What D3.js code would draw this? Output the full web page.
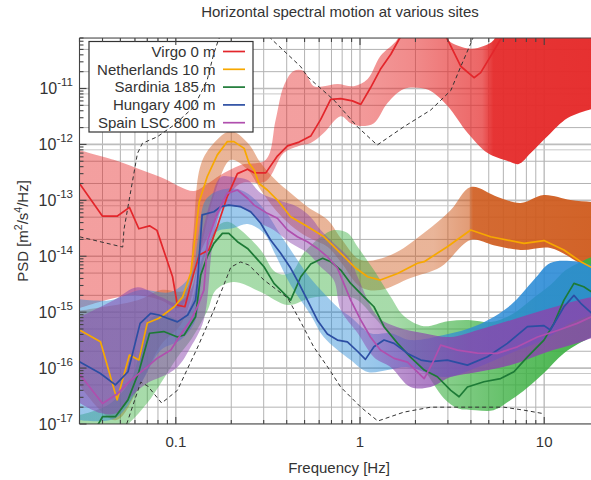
<!DOCTYPE html>
<html><head><meta charset="utf-8">
<script src="https://cdn.jsdelivr.net/npm/d3@7"></script>
<style>
body{margin:0;background:#fff}
svg{display:block}
text{font-family:"Liberation Sans",Arial,Helvetica,sans-serif;fill:#333}
</style>
</head><body>
<svg id="c" width="591" height="480"></svg>
<script>
// ---------------- DATA (frequency [Hz], PSD [m^2/s^4/Hz]) ----------------
const title = "Horizontal spectral motion at various sites";
const xLabel = "Frequency [Hz]";
const xTickValues = [0.1, 1, 10];
const xTickLabels = ["0.1", "1", "10"];
const yTickExponents = [-17, -16, -15, -14, -13, -12, -11];
const legendLabels = ["Virgo 0 m", "Netherlands 10 m", "Sardinia 185 m", "Hungary 400 m", "Spain LSC 800 m"];

const virgoMedian = [[0.03,2.0e-13],[0.040,5.2e-14],[0.048,5.2e-14],[0.056,7.5e-14],[0.063,3.1e-14],[0.072,3.5e-14],[0.079,2.9e-14],[0.096,4.3e-15],[0.102,1.34e-15],[0.112,1.25e-15],[0.125,4.9e-15],[0.134,1.05e-14],[0.151,1.29e-14],[0.168,3.4e-14],[0.19,1.16e-13],[0.216,3.0e-13],[0.245,3.6e-13],[0.266,3.1e-13],[0.308,3.1e-13],[0.356,6.2e-13],[0.404,9.4e-13],[0.467,1.1e-12],[0.54,1.41e-12],[0.612,2.8e-12],[0.693,6.4e-12],[0.786,6.6e-12],[0.909,6.0e-12],[1.01,5.2e-12],[1.14,1.03e-11],[1.29,2.2e-11],[1.47,4.1e-11],[1.63,7.6e-11],[1.9,1.6e-10],[2.6,1.6e-10],[2.98,7.6e-11],[3.52,2.5e-11],[4.16,1.56e-11],[4.52,1.92e-11],[5.12,3.8e-11],[5.8,7.6e-11],[7,2e-10],[20,2e-10]];
const virgoUpper = [[0.03,7.9e-13],[0.046,5.3e-13],[0.061,3.8e-13],[0.083,2.6e-13],[0.125,1.47e-13],[0.145,1.88e-13],[0.175,2.84e-13],[0.225,4.3e-13],[0.308,5.3e-13],[0.348,2.7e-12],[0.385,1.1e-11],[0.436,2.06e-11],[0.495,2.06e-11],[0.561,1.1e-11],[0.635,1.1e-11],[0.755,1.2e-11],[0.924,1.1e-11],[1.10,1.48e-11],[1.29,3.8e-11],[1.60,7.7e-11],[1.8,2e-10],[2.7,2e-10],[2.99,7.7e-11],[3.23,6.25e-11],[3.99,5.15e-11],[4.69,5.75e-11],[5.32,7.4e-11],[6,2e-10],[20,2e-10]];
const virgoLower = [[0.03,1.18e-15],[0.057,2.0e-15],[0.083,1.64e-15],[0.102,1.18e-15],[0.113,1.64e-15],[0.128,7.0e-15],[0.155,2.94e-14],[0.187,1.01e-13],[0.225,2.0e-13],[0.308,2.2e-13],[0.385,7.0e-13],[0.465,9.4e-13],[0.54,1.06e-12],[0.635,1.6e-12],[0.786,3.2e-12],[0.89,2.4e-12],[1.01,2.13e-12],[1.19,2.4e-12],[1.41,5.5e-12],[1.73,9.8e-12],[2.14,1.02e-11],[2.42,9.0e-12],[2.99,4.86e-12],[3.84,1.6e-12],[4.93,7.0e-13],[6.34,5.05e-13],[7.27,4.46e-13],[8.45,7.0e-13],[10.45,1.41e-12],[13.4,2.96e-12],[18.1,4.3e-12],[20,4.6e-12]];

const netherlandsMedian = [[0.03,4.8e-16],[0.039,2.95e-16],[0.048,2.7e-17],[0.056,1.71e-16],[0.063,1.39e-16],[0.070,6.4e-16],[0.081,7.8e-16],[0.098,1.25e-15],[0.109,1.88e-15],[0.1205,5.0e-15],[0.134,9.4e-14],[0.148,2.64e-13],[0.168,6.5e-13],[0.19,1.12e-12],[0.207,1.12e-12],[0.235,8.5e-13],[0.25,4.6e-13],[0.266,3.5e-13],[0.283,2.0e-13],[0.314,1.53e-13],[0.356,1.01e-13],[0.42,5.1e-14],[0.518,3.4e-14],[0.638,2.23e-14],[0.786,1.13e-14],[0.928,6.5e-15],[1.10,4.3e-15],[1.29,3.75e-15],[1.60,4.9e-15],[2.05,7.5e-15],[2.23,8.0e-15],[2.98,1.48e-14],[3.99,2.94e-14],[5.12,2.23e-14],[7.77,1.7e-14],[9.97,1.91e-14],[12.8,1.29e-14],[15.8,8.0e-15],[18.1,6.3e-15],[20,5.8e-15]];
const netherlandsUpper = [[0.03,1.07e-15],[0.062,1.64e-15],[0.083,2.5e-15],[0.113,2.5e-15],[0.1235,1.95e-14],[0.1365,4.3e-13],[0.161,1.06e-12],[0.199,1.74e-12],[0.246,1.06e-12],[0.289,4.65e-13],[0.348,2.3e-13],[0.42,1.35e-13],[0.52,7.6e-14],[0.668,4.45e-14],[0.786,2.12e-14],[1.01,8.55e-15],[1.47,1.05e-14],[2.22,2.6e-14],[3.11,6.7e-14],[3.99,1.73e-13],[5.59,1.15e-13],[7.45,8.95e-14],[9.94,1.24e-13],[13.9,1.01e-13],[18.1,9.3e-14],[20,9.0e-14]];
const netherlandsLower = [[0.03,5.0e-17],[0.047,1.17e-17],[0.064,5.0e-17],[0.083,2.6e-16],[0.106,5.9e-16],[0.1205,1.64e-15],[0.1365,1.29e-14],[0.165,1.53e-13],[0.199,5.3e-13],[0.246,3.5e-13],[0.289,1.53e-13],[0.348,6.7e-14],[0.42,3.6e-14],[0.52,2.2e-14],[0.668,1.46e-14],[0.786,7.9e-15],[1.01,2.8e-15],[1.29,2.48e-15],[1.88,4.07e-15],[2.74,6.4e-15],[3.99,1.95e-14],[5.31,1.58e-14],[7.45,1.29e-14],[10.8,1.4e-14],[15.2,7.9e-15],[18.1,5.66e-15],[20,5.0e-15]];

const sardiniaMedian = [[0.03,5.2e-18],[0.038,1.0e-17],[0.040,1.35e-17],[0.047,1.35e-17],[0.055,2.7e-17],[0.063,8.6e-17],[0.072,4.2e-16],[0.086,4.5e-16],[0.102,3.6e-16],[0.111,3.9e-16],[0.128,8.3e-16],[0.1365,4.6e-15],[0.148,9.8e-15],[0.161,1.7e-14],[0.179,2.57e-14],[0.194,2.57e-14],[0.216,1.82e-14],[0.245,1.38e-14],[0.301,6.5e-15],[0.341,3.27e-15],[0.42,1.64e-15],[0.477,4.3e-15],[0.54,7.25e-15],[0.627,9.2e-15],[0.693,8.0e-15],[0.786,5.66e-15],[0.89,3.27e-15],[1.05,1.88e-15],[1.19,1.25e-15],[1.35,5.5e-16],[1.60,2.77e-16],[1.88,1.57e-16],[2.23,9.2e-17],[2.63,7.0e-17],[3.11,4.0e-17],[3.45,3.07e-17],[3.83,4.6e-17],[4.71,5.7e-17],[5.8,6.5e-17],[6.85,8.6e-17],[8.11,1.59e-16],[9.97,3.17e-16],[11.3,6.3e-16],[12.8,1.64e-15],[14.5,3.27e-15],[16.4,2.84e-15],[18.1,2.3e-15],[20,2.1e-15]];
const sardiniaUpper = [[0.03,1.44e-17],[0.043,2.2e-17],[0.057,6.1e-17],[0.064,2.1e-16],[0.073,7.8e-16],[0.088,8.9e-16],[0.106,7.2e-16],[0.1205,1.34e-15],[0.1365,7.9e-15],[0.155,2.12e-14],[0.175,3.8e-14],[0.194,4.1e-14],[0.225,2.94e-14],[0.289,1.29e-14],[0.348,5.2e-15],[0.42,5.0e-15],[0.495,1.14e-14],[0.612,2.2e-14],[0.72,2.94e-14],[0.857,2.6e-14],[0.972,1.46e-14],[1.19,5.66e-15],[1.47,1.86e-15],[1.73,8.5e-16],[2.22,5.6e-16],[2.99,6.9e-16],[3.99,7.2e-16],[5.12,6.65e-16],[6.58,8.9e-16],[8.45,1.64e-15],[10.8,3.05e-15],[13.1,5.66e-15],[15.8,7.9e-15],[18.1,9.7e-15],[20,1.0e-14]];
const sardiniaLower = [[0.03,4.2e-18],[0.05,7.8e-18],[0.070,2.37e-17],[0.083,5.4e-17],[0.102,1.57e-16],[0.1205,3.17e-16],[0.149,1.09e-15],[0.165,2.48e-15],[0.206,3.45e-15],[0.289,2.29e-15],[0.405,1.34e-15],[0.54,1.79e-15],[0.693,1.94e-15],[0.836,1.94e-15],[0.972,1.64e-15],[1.19,8.2e-16],[1.66,2.38e-16],[2.22,9.2e-17],[2.85,2.9e-17],[3.39,1.92e-17],[4.25,1.77e-17],[5.31,1.77e-17],[6.58,2.68e-17],[7.45,3.57e-17],[9.94,8.1e-17],[12.8,1.85e-16],[18.1,3.6e-16],[20,4.0e-16]];

const hungaryMedian = [[0.03,1.3e-16],[0.039,8.0e-17],[0.047,5.0e-17],[0.055,8.6e-17],[0.064,6.3e-16],[0.073,9.5e-16],[0.081,8.9e-16],[0.090,7.8e-16],[0.102,6.7e-16],[0.116,8.9e-16],[0.128,1.64e-15],[0.131,3.3e-15],[0.139,5.5e-14],[0.161,6.25e-14],[0.175,7.7e-14],[0.194,8.2e-14],[0.225,7.7e-14],[0.255,6.25e-14],[0.289,3.9e-14],[0.327,1.95e-14],[0.371,1.13e-14],[0.42,6.15e-15],[0.466,3.27e-15],[0.518,1.64e-15],[0.587,7.2e-16],[0.665,4.06e-16],[0.754,3.17e-16],[0.854,2.95e-16],[0.968,2.0e-16],[1.07,1.43e-16],[1.19,2.4e-16],[1.35,3.17e-16],[1.53,2.77e-16],[1.81,1.83e-16],[2.14,1.39e-16],[2.42,1.3e-16],[2.98,1.39e-16],[3.83,1.13e-16],[4.92,1.59e-16],[6.31,2.77e-16],[8.11,5.5e-16],[9.97,5.75e-16],[10.8,4.8e-16],[12.8,1.25e-15],[14.5,2.0e-15],[15.8,1.44e-15],[18.1,9.6e-16],[20,8.5e-16]];
const hungaryUpper = [[0.03,1.7e-15],[0.044,1.64e-15],[0.064,2.5e-15],[0.094,2.3e-15],[0.1205,4.6e-15],[0.1315,1.95e-14],[0.145,1.01e-13],[0.175,1.53e-13],[0.225,1.53e-13],[0.289,8.2e-14],[0.371,2.4e-14],[0.477,7.0e-15],[0.54,4.0e-15],[0.635,2.2e-15],[0.786,1.09e-15],[0.89,8.2e-16],[1.14,4.2e-16],[1.47,4.2e-16],[1.88,3.17e-16],[2.85,3.9e-16],[4.36,5.9e-16],[6.58,1.34e-15],[8.77,3.75e-15],[10.8,7.55e-15],[13.9,8.2e-15],[18.1,7.0e-15],[20,6.5e-15]];
const hungaryLower = [[0.03,1.17e-17],[0.047,1.27e-17],[0.064,5.0e-17],[0.083,2.1e-16],[0.106,3.17e-16],[0.128,7.2e-16],[0.1417,8.55e-15],[0.165,2.7e-14],[0.206,3.2e-14],[0.246,3.77e-14],[0.30,2.6e-14],[0.348,1.05e-14],[0.42,3.05e-15],[0.54,8.9e-16],[0.635,3.6e-16],[0.89,1.39e-16],[1.10,8.5e-17],[1.41,9.2e-17],[1.82,1.04e-16],[2.85,6.9e-17],[4.36,1.04e-16],[6.58,1.85e-16],[9.94,3.17e-16],[13.9,6.4e-16],[18.1,8.9e-16],[20,1.0e-15]];

const spainMedian = [[0.03,7.8e-17],[0.040,2.33e-17],[0.048,3.43e-17],[0.057,6.1e-17],[0.070,1.05e-16],[0.079,1.49e-16],[0.094,2.1e-16],[0.106,3.9e-16],[0.1205,7.2e-16],[0.131,1.25e-15],[0.142,2.48e-15],[0.149,1.95e-14],[0.168,5.85e-14],[0.19,1.33e-13],[0.216,1.53e-13],[0.245,1.09e-13],[0.266,8.2e-14],[0.314,5.85e-14],[0.356,4.77e-14],[0.404,2.94e-14],[0.457,2.23e-14],[0.518,1.82e-14],[0.587,1.38e-14],[0.665,9.8e-15],[0.754,6.15e-15],[0.89,1.64e-15],[1.01,7.2e-16],[1.14,3.6e-16],[1.29,2.1e-16],[1.53,1.49e-16],[1.81,1.28e-16],[2.23,6.5e-17],[2.47,1.21e-16],[2.74,2.58e-16],[3.38,2.1e-16],[4.34,1.85e-16],[5.57,1.83e-16],[7.15,2.4e-16],[9.19,3.6e-16],[11.8,4.7e-16],[15.1,6.3e-16],[18.1,8.3e-16],[20,9.0e-16]];
const spainUpper = [[0.03,8.2e-16],[0.046,1.64e-15],[0.062,2.8e-15],[0.083,1.86e-15],[0.102,1.46e-15],[0.1205,2.48e-15],[0.1365,1.95e-14],[0.155,1.01e-13],[0.175,2.6e-13],[0.206,2.6e-13],[0.246,2.3e-13],[0.289,1.35e-13],[0.359,1.01e-13],[0.459,7.6e-14],[0.54,5.0e-14],[0.612,2.94e-14],[0.72,1.72e-14],[0.89,8.55e-15],[0.972,4.25e-15],[1.25,8.2e-16],[1.60,5.4e-16],[2.22,4.2e-16],[3.11,3.6e-16],[4.36,4.8e-16],[6.58,7.2e-16],[9.94,1.09e-15],[15.2,1.64e-15],[18.1,1.86e-15],[20,2.0e-15]];
const spainLower = [[0.03,2.37e-17],[0.039,1.57e-17],[0.048,1.57e-17],[0.057,3.03e-17],[0.070,5.4e-17],[0.083,6.9e-17],[0.102,1.04e-16],[0.1205,2.38e-16],[0.1417,7.2e-16],[0.16,1.95e-14],[0.182,7.6e-14],[0.217,7.6e-14],[0.255,5.9e-14],[0.289,3.93e-14],[0.34,2.94e-14],[0.42,1.72e-14],[0.52,1.14e-14],[0.612,6.4e-15],[0.72,3.75e-15],[0.786,1.09e-15],[0.972,4.2e-16],[1.19,1.57e-16],[1.47,1.04e-16],[1.88,4.6e-17],[2.42,4.6e-17],[3.11,6.9e-17],[4.36,8.5e-17],[6.58,1.13e-16],[9.94,1.85e-16],[15.2,2.8e-16],[18.1,3.44e-16],[20,3.7e-16]];

const modelHigh = [[0.03,2.23e-14],[0.0515,1.46e-14],[0.0523,3.0e-14],[0.057,1.5e-13],[0.0619,6.9e-13],[0.0659,1.05e-12],[0.0794,1.37e-12],[0.0977,2.22e-12],[0.1256,4.7e-12],[0.148,1.42e-11],[0.161,4.3e-11],[0.1716,7.9e-11],[0.25,2.2e-10],[0.327,7.9e-11],[0.477,2.45e-11],[0.518,1.63e-11],[0.722,6.2e-12],[0.968,2.07e-12],[1.24,9.75e-13],[1.73,2.07e-12],[2.42,4.12e-12],[3.11,9.2e-12],[3.52,2.45e-11],[4.07,7.4e-11],[4.6,2.5e-10]];
const modelLow = [[0.0541,1.0e-17],[0.0645,5.6e-17],[0.0704,4.77e-17],[0.0838,2.37e-17],[0.102,4.0e-17],[0.1315,2.38e-16],[0.161,1.09e-15],[0.199,6.4e-15],[0.225,7.9e-15],[0.249,6.97e-15],[0.301,3.75e-15],[0.405,1.79e-15],[0.477,6.65e-16],[0.561,2.38e-16],[0.668,1.04e-16],[0.786,4.57e-17],[1.01,2.0e-17],[1.25,1.13e-17],[1.73,1.63e-17],[2.42,2.0e-17],[3.84,2.0e-17],[6.03,2.0e-17],[7.74,1.77e-17],[9.94,1.53e-17]];

// ---------------- STYLE ----------------
const lineColors = ["#e3262b", "#f7a800", "#1d7a36", "#2c4ea3", "#b04fae"];
const bandColors = ["#e52a2a", "#cf5a1c", "#3cb042", "#2b8bd6", "#8a45ad"];
const bandOpacity = [
  [[0.03,0.45],[0.8,0.45],[2,0.55],[4.6,0.72],[5.3,0.95],[20,0.97]],
  [[0.03,0.45],[2.5,0.45],[3.9,0.6],[4.1,0.9],[20,0.95]],
  [[0.03,0.45],[1.5,0.45],[3,0.62],[6,0.78],[12,0.9],[20,0.95]],
  [[0.03,0.48],[1,0.45],[2.5,0.62],[5,0.82],[10,0.9],[20,0.9]],
  [[0.03,0.52],[0.3,0.48],[1,0.45],[2,0.65],[4,0.8],[20,0.85]]
];
const bands = [[virgoUpper,virgoLower],[netherlandsUpper,netherlandsLower],[sardiniaUpper,sardiniaLower],[hungaryUpper,hungaryLower],[spainUpper,spainLower]];
const medians = [virgoMedian, netherlandsMedian, sardiniaMedian, hungaryMedian, spainMedian];

// ---------------- SCALES ----------------
const pL = 79.5, pT = 38, pB = 424, pxPerDecade = 184.2;
const x = d3.scaleLog().domain([0.03, 20]).range([pL, pL + Math.log10(20/0.03)*pxPerDecade]);
const y = d3.scaleLog().domain([1e-17, 8e-11]).range([pB, pT]);
const pR = x.range()[1];

const svg = d3.select("#c");
const defs = svg.append("defs");
defs.append("clipPath").attr("id","plot").append("rect")
  .attr("x", pL).attr("y", pT).attr("width", pR-pL).attr("height", pB-pT);

bandColors.forEach((c,i)=>{
  const g = defs.append("linearGradient").attr("id","g"+i)
    .attr("gradientUnits","userSpaceOnUse")
    .attr("x1", x(0.03)).attr("x2", x(20)).attr("y1",0).attr("y2",0);
  bandOpacity[i].forEach(s=>{
    g.append("stop").attr("offset", (x(s[0])-x(0.03))/(x(20)-x(0.03)))
      .attr("stop-color", c).attr("stop-opacity", s[1]);
  });
});

// ---------------- GRID ----------------
const grid = svg.append("g").attr("clip-path","url(#plot)");
const isDecade = v => Math.abs(Math.log10(v) - Math.round(Math.log10(v))) < 1e-6;
x.ticks().forEach(v=>{
  grid.append("line").attr("x1",x(v)).attr("x2",x(v)).attr("y1",pT).attr("y2",pB)
    .attr("stroke", isDecade(v) ? "#c4c4c4" : "#b3b3b3").attr("stroke-width", isDecade(v)?1.6:1);
});
const yTicksAll = y.ticks();
yTicksAll.forEach(v=>{
  const m = Math.round(v / Math.pow(10, Math.floor(Math.log10(v)+1e-9)));
  if (m===1 || m===2 || m===5 || m===8) {
    grid.append("line").attr("x1",pL).attr("x2",pR).attr("y1",y(v)).attr("y2",y(v))
      .attr("stroke", m===1 ? "#bdbdbd" : (m===8 ? "#c8c8c8" : "#b3b3b3"))
      .attr("stroke-width", m===1 ? 1.6 : 1);
  }
});

// ---------------- BANDS + MEDIANS ----------------
const lineGen = d3.line().x(d=>x(d[0])).y(d=>y(d[1]));
const smoothGen = d3.line().x(d=>x(d[0])).y(d=>y(d[1])).curve(d3.curveCatmullRom.alpha(0.5));
const plot = svg.append("g").attr("clip-path","url(#plot)");
bands.forEach((b,i)=>{
  const up = smoothGen(b[0]);
  const lo = smoothGen(b[1].slice().reverse());
  plot.append("path").attr("d", up + "L" + lo.slice(1) + "Z")
    .attr("fill","url(#g"+i+")").attr("stroke","none");
});
medians.forEach((m,i)=>{
  plot.append("path").attr("d", lineGen(m)).attr("fill","none")
    .attr("stroke", lineColors[i]).attr("stroke-width",1.7).attr("stroke-linejoin","round");
});

// ---------------- LEGEND ----------------
const lg = svg.append("g");
lg.append("rect").attr("x",89).attr("y",41.5).attr("width",164).attr("height",90.5)
  .attr("fill","#fff").attr("stroke","#333").attr("stroke-width",1.2);
legendLabels.forEach((t,i)=>{
  const cy = 51.5 + i*17.8;
  lg.append("text").attr("x",215.5).attr("y",cy+5.3).attr("text-anchor","end")
    .attr("font-size",15).text(t);
  lg.append("line").attr("x1",223).attr("x2",245).attr("y1",cy).attr("y2",cy)
    .attr("stroke",lineColors[i]).attr("stroke-width",1.7);
});

// ---------------- DASHED MODEL CURVES ----------------
const dash = svg.append("g").attr("clip-path","url(#plot)");
[modelHigh, modelLow].forEach(m=>{
  dash.append("path").attr("d", lineGen(m)).attr("fill","none")
    .attr("stroke","#333").attr("stroke-width",1).attr("stroke-dasharray","4,3");
});

// ---------------- FRAME + TICKS ----------------
const fr = svg.append("g").attr("stroke","#444").attr("stroke-width",1.1);
fr.append("line").attr("x1",pL).attr("x2",pR).attr("y1",pT).attr("y2",pT);
fr.append("line").attr("x1",pL).attr("x2",pR).attr("y1",pB).attr("y2",pB);
fr.append("line").attr("x1",pL).attr("x2",pL).attr("y1",pT).attr("y2",pB);
x.ticks().forEach(v=>{
  const L = isDecade(v) ? 7 : 4;
  fr.append("line").attr("x1",x(v)).attr("x2",x(v)).attr("y1",pB).attr("y2",pB-L);
  fr.append("line").attr("x1",x(v)).attr("x2",x(v)).attr("y1",pT).attr("y2",pT+L);
});
yTicksAll.forEach(v=>{
  const L = isDecade(v) ? 7 : 4;
  fr.append("line").attr("x1",pL).attr("x2",pL+L).attr("y1",y(v)).attr("y2",y(v));
});

// ---------------- TEXT ----------------
xTickValues.forEach((v,i)=>{
  svg.append("text").attr("x",x(v)).attr("y",447).attr("text-anchor","middle")
    .attr("font-size",15).text(xTickLabels[i]);
});
yTickExponents.forEach(e=>{
  const t = svg.append("text").attr("x",73).attr("y",y(Math.pow(10,e))+5.5)
    .attr("text-anchor","end").attr("font-size",16);
  t.append("tspan").text("10");
  t.append("tspan").attr("dy",-7.5).attr("font-size",11.5).text(String(e));
});
svg.append("text").attr("x",340).attr("y",17).attr("text-anchor","middle")
  .attr("font-size",15).text(title);
svg.append("text").attr("x",339).attr("y",473).attr("text-anchor","middle")
  .attr("font-size",15).text(xLabel);
const yl = svg.append("text").attr("transform","translate(28,231) rotate(-90)")
  .attr("text-anchor","middle").attr("font-size",15);
yl.append("tspan").text("PSD [m");
yl.append("tspan").attr("dy",-6).attr("font-size",10.5).text("2");
yl.append("tspan").attr("dy",6).text("/s");
yl.append("tspan").attr("dy",-6).attr("font-size",10.5).text("4");
yl.append("tspan").attr("dy",6).text("/Hz]");
</script>
</body></html>
